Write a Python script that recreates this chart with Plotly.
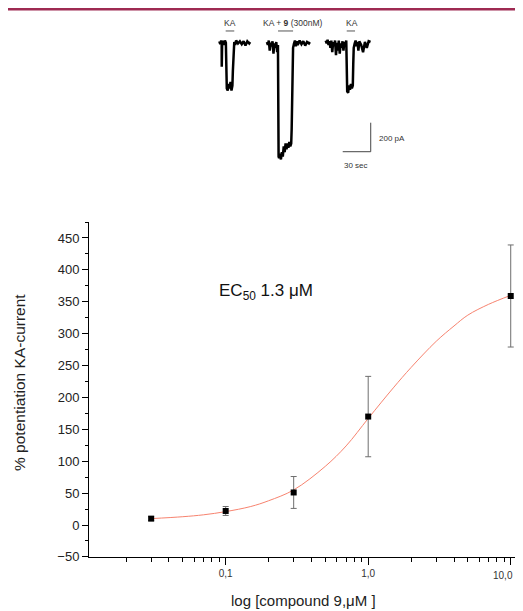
import plotly.graph_objects as go

# ---------------- dose-response data ----------------
conc_uM = [0.03, 0.1, 0.3, 1.0, 10.0]
potentiation = [10, 22, 51, 170, 359]
potentiation_err = [3, 7, 25, 63, 80]

# fitted curve (EC50 1.3 uM)
fit_conc = [0.03, 0.05, 0.07, 0.1, 0.15, 0.2, 0.3, 0.5, 0.7, 1.0, 1.5, 2.0, 3.0, 4.0, 5.0, 7.0, 10.0]
fit_pot = [10, 13, 16, 21, 29, 38, 55, 92, 124, 167, 215, 247, 288, 312, 329, 346, 360]

x_tickvals = [0.1, 1, 10]
x_ticktext = ["0,1", "1,0", "10,0"]
x_minor = [0.02, 0.03, 0.04, 0.05, 0.06, 0.07, 0.08, 0.09,
           0.2, 0.3, 0.4, 0.5, 0.6, 0.7, 0.8, 0.9,
           2, 3, 4, 5, 6, 7, 8, 9]

# ---------------- current traces (time s, current pA) ----------------
t_ka1 = [10, 11, 12, 12.5, 12.6, 13, 14, 15, 16, 17, 17.6, 18, 19, 20, 21, 22, 23, 24, 24.5, 25, 25.5, 26,
         27, 28, 30, 32, 34, 36, 38, 40, 42, 43]
i_ka1 = [5, -15, 10, -5, -170, -10, 8, -20, 10, -5, -200, -320, -335, -290, -320, -275, -335, -300, -200, -90,
         -30, 0, -20, 10, -10, 5, -15, 5, -25, 5, -10, 0]

t_ka9 = [61, 62, 63, 64, 65, 66, 67, 68, 69, 70, 71, 72, 72.8, 73, 73.5, 74, 75, 76, 77, 78, 79, 80, 81, 82,
         83, 84, 85, 86, 87, 87.5, 88, 88.5, 89, 90, 91, 92, 93, 94, 96, 98, 100, 102, 104, 106, 107]
i_ka9 = [0, -20, 10, -60, -5, -30, 5, -80, -10, -40, 0, -70, -20, -500, -790, -800, -770, -810, -760, -790,
         -720, -760, -700, -740, -700, -730, -690, -720, -700, -600, -300, -100, -40, -10, 10, -30, 5, -20,
         10, -15, 5, -25, 0, -10, 0]

t_ka2 = [124, 125, 126, 127, 128, 129, 130, 131, 132, 133, 134, 135, 136, 137, 138, 139, 140, 141, 142, 143,
         144, 145, 146, 146.5, 147, 148, 149, 150, 151, 152, 153, 153.5, 154, 155, 156, 157, 158, 159, 160,
         162, 164, 166, 168, 170, 172]
i_ka2 = [10, -10, 15, -20, 5, -40, 10, -70, 0, -30, 10, -90, -5, -60, 10, -80, -10, -40, 5, -60, 0, -20, 10,
         -200, -340, -350, -300, -330, -290, -320, -300, -150, -40, -10, 10, -30, 0, -60, 5, -20, -70, 0,
         -40, 5, 0]

app_labels = ["KA", "KA + <b>9</b> (300nM)", "KA"]
app_start = [16.8, 72.9, 146.5]
app_end = [26.0, 89.0, 155.4]
label_t = [21.4, 88.9, 151.8]

scale_t_sec = 30
scale_i_pA = 200

# the page body adds an 8px margin; build the figure so that page pixels line up
OFF = 8
W, H = 523 - OFF, 611 - OFF


def px(xp):
    return (xp - OFF) / W


def py(yp):
    return 1 - (yp - OFF) / H


fig = go.Figure()

# fit curve
fig.add_trace(go.Scatter(x=fit_conc, y=fit_pot, mode="lines",
                         line=dict(color="#f7836f", width=1, shape="spline"),
                         xaxis="x", yaxis="y", showlegend=False, hoverinfo="skip"))
# data points
fig.add_trace(go.Scatter(x=conc_uM, y=potentiation, mode="markers",
                         marker=dict(symbol="square", size=6, color="black"),
                         error_y=dict(type="data", array=potentiation_err, color="#6e6e6e",
                                      thickness=1, width=3),
                         xaxis="x", yaxis="y", showlegend=False))

# traces
for tt, ii in [(t_ka1, i_ka1), (t_ka9, i_ka9), (t_ka2, i_ka2)]:
    fig.add_trace(go.Scatter(x=tt, y=ii, mode="lines", line=dict(color="black", width=2.5),
                             xaxis="x2", yaxis="y2", showlegend=False, hoverinfo="skip"))

shapes = []
annotations = []

# maroon top rule
shapes.append(dict(type="rect", xref="paper", yref="paper", x0=0, x1=1, y0=py(10.5), y1=1,
                   fillcolor="#9e2a52", line=dict(width=0)))

# application bars and labels
for lab, s, e, lt in zip(app_labels, app_start, app_end, label_t):
    shapes.append(dict(type="line", xref="x2", yref="y2", x0=s, x1=e, y0=76, y1=76,
                       line=dict(color="#555555", width=1)))
    annotations.append(dict(text=lab, x=lt, y=131, xref="x2", yref="y2", showarrow=False,
                            font=dict(size=8.5, color="#333333"), xanchor="center", yanchor="middle"))

# scale bars
sb_t1 = 172.2
sb_i0 = -756.6
shapes.append(dict(type="line", xref="x2", yref="y2", x0=sb_t1 - scale_t_sec, x1=sb_t1, y0=sb_i0, y1=sb_i0,
                   line=dict(color="#444444", width=1)))
shapes.append(dict(type="line", xref="x2", yref="y2", x0=sb_t1, x1=sb_t1, y0=sb_i0, y1=sb_i0 + scale_i_pA,
                   line=dict(color="#444444", width=1)))
annotations.append(dict(text=f"{scale_i_pA} pA", x=sb_t1 + 7, y=sb_i0 + scale_i_pA * 0.47, xref="x2", yref="y2",
                        showarrow=False, xanchor="left", yanchor="middle",
                        font=dict(size=8, color="#333333")))
annotations.append(dict(text=f"{scale_t_sec} sec", x=sb_t1 - scale_t_sec / 2 - 1, y=sb_i0 - 95, xref="x2",
                        yref="y2", showarrow=False, xanchor="center", yanchor="middle",
                        font=dict(size=8, color="#333333")))

# last x tick label drawn as annotation, right-aligned so it stays fully visible
annotations.append(dict(text=x_ticktext[-1], x=px(515), xref="paper", y=py(575), yref="paper", showarrow=False,
                        xanchor="right", yanchor="middle", font=dict(size=10, color="#333333")))

# titles
annotations.append(dict(text="% potentiation KA-current", x=px(20), y=py(383), xref="paper", yref="paper",
                        showarrow=False, textangle=-90, xanchor="center", yanchor="middle",
                        font=dict(size=15.5, color="#222222")))
annotations.append(dict(text="log [compound 9,μM ]", x=px(303), y=py(600), xref="paper", yref="paper",
                        showarrow=False, xanchor="center", yanchor="middle",
                        font=dict(size=15, color="#222222")))
annotations.append(dict(text="EC<sub>50</sub> 1.3 μM", x=px(266), y=py(292), xref="paper", yref="paper",
                        showarrow=False, xanchor="center", yanchor="middle",
                        font=dict(size=17, color="#111111")))

fig.update_layout(
    template="none",
    width=W, height=H,
    margin=dict(l=0, r=0, t=0, b=0),
    paper_bgcolor="white", plot_bgcolor="white",
    font=dict(family="Liberation Sans, Arial, sans-serif", color="#222222"),
    showlegend=False,
    xaxis=dict(type="log", range=[-1.959, 1.044], domain=[px(89), px(517)], anchor="y",
               showline=True, linecolor="black", linewidth=1, showgrid=False, zeroline=False,
               ticks="outside", ticklen=7, tickcolor="black", tickwidth=1,
               tickvals=x_tickvals, ticktext=x_ticktext[:-1] + [""], tickfont=dict(size=10, color="#333333"),
               minor=dict(tickvals=x_minor, ticks="outside", ticklen=4, tickcolor="black", showgrid=False),
               automargin=False),
    yaxis=dict(range=[-50, 475], domain=[py(556.9), py(222)], anchor="x",
               showline=True, linecolor="black", linewidth=1, showgrid=False, zeroline=False,
               ticks="outside", ticklen=6, tickcolor="black", tickwidth=1,
               tick0=0, dtick=50, tickfont=dict(size=13, color="#222222"),
               minor=dict(tick0=0, dtick=25, ticks="outside", ticklen=3, tickcolor="black", showgrid=False),
               automargin=False),
    xaxis2=dict(range=[0, 214.29], domain=[px(210), px(410)], anchor="y2", visible=False),
    yaxis2=dict(range=[-882.76, 220.69], domain=[py(170), py(10)], anchor="x2", visible=False),
    shapes=shapes,
    annotations=annotations,
)

fig.write_html("out.html")
